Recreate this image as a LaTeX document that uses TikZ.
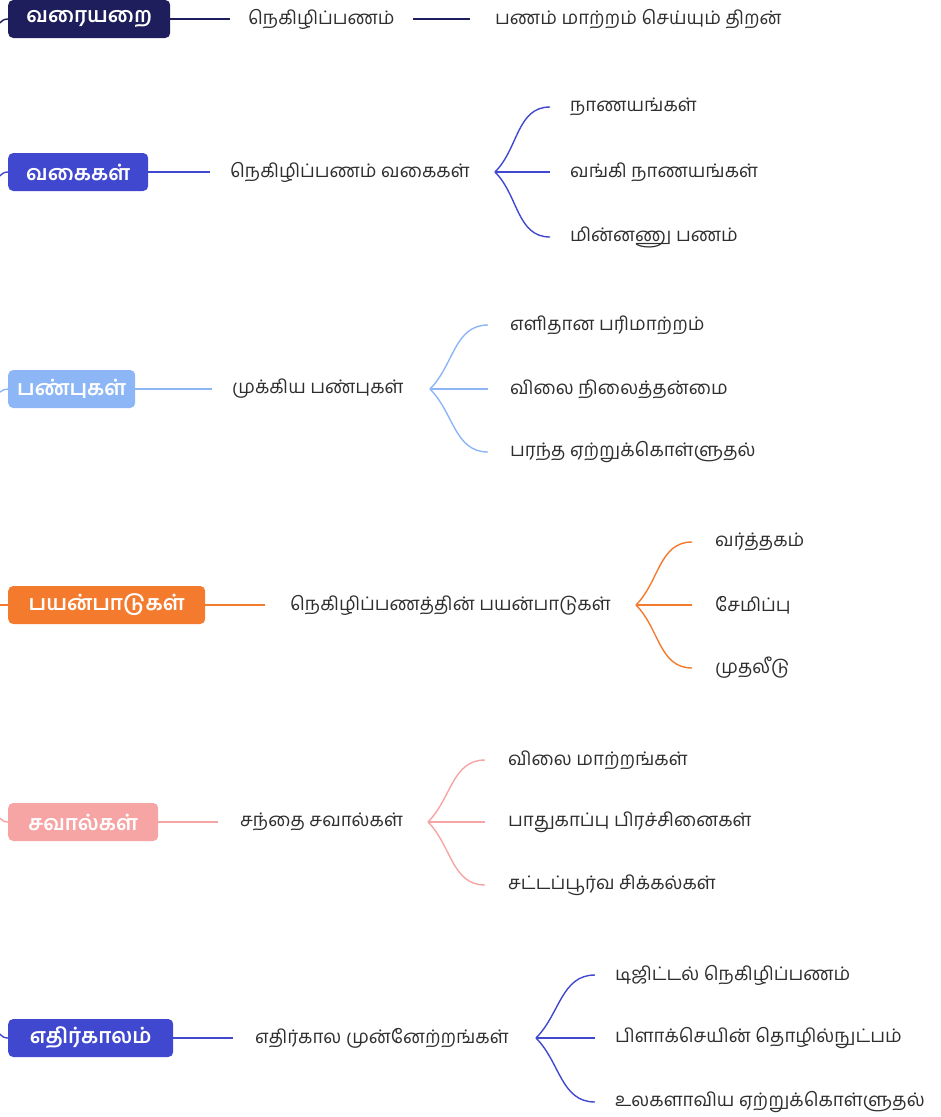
\documentclass[tikz,border=0pt]{standalone}
\usepackage{fontspec}
\newfontfamily\tamilfont[Script=Tamil]{Hind Madurai}
\usetikzlibrary{positioning}
\definecolor{navy}{HTML}{1E1E5C}
\definecolor{indigo}{HTML}{4048CF}
\definecolor{skyblue}{HTML}{8DB6F7}
\definecolor{tangerine}{HTML}{F47B2E}
\definecolor{salmonpink}{HTML}{F6A4A4}
\definecolor{inkgray}{HTML}{2E2E2E}

\begin{document}
\begin{tikzpicture}[x=1pt, y=1pt,
    topic/.style={rectangle, rounded corners=5pt, fill=#1, text=white, anchor=west,
      minimum height=38pt, inner xsep=0pt, font=\tamilfont\bfseries\fontsize{21}{24}\selectfont},
    idea/.style={anchor=west, inner xsep=0pt, text=inkgray, font=\tamilfont\fontsize{18.7}{22}\selectfont},
    link/.style={draw=#1, line width=1.4pt}]
  \useasboundingbox (0,0) rectangle (941,-1117);

  % definition
  \node[topic=navy, minimum width=162pt] (defn) at (8,-19) {வரையறை};
  \node[idea] (defnmain) at (248,-19) {நெகிழிப்பணம்};
  \node[idea] (defnnote) at (495,-19) {பணம் மாற்றம் செய்யும் திறன்};
  \coordinate (defnroot) at (-6,-32);
  \draw[link=navy] (defnroot) to[out=60,in=180] (defn.west);
  \draw[link=navy] (defn.east) -- ([xshift=-18pt]defnmain.west);
  \draw[link=navy] ([xshift=18pt]defnmain.east) -- ([xshift=-25pt]defnnote.west);

  % types
  \node[topic=indigo, minimum width=140pt] (types) at (8,-172) {வகைகள்};
  \node[idea] (typesmain) at (230,-172) {நெகிழிப்பணம் வகைகள்};
  \node[idea] (coins) at (570,-107) {நாணயங்கள்};
  \node[idea] (banknotes) at (570,-172) {வங்கி நாணயங்கள்};
  \node[idea] (emoney) at (570,-237) {மின்னணு பணம்};
  \coordinate (typesroot) at (-6,-185);
  \coordinate (typesfork) at (495,-172);
  \draw[link=indigo] (typesroot) to[out=60,in=180] (types.west);
  \draw[link=indigo] (types.east) -- ([xshift=-20pt]typesmain.west);
  \foreach \c/\a in {coins/45, banknotes/0, emoney/-45}
    \draw[link=indigo] (typesfork) to[out=\a,in=180] ([xshift=-20pt]\c.west);

  % properties
  \node[topic=skyblue, minimum width=127pt] (props) at (8,-389) {பண்புகள்};
  \node[idea] (propsmain) at (232,-389) {முக்கிய பண்புகள்};
  \node[idea] (easy) at (510,-325) {எளிதான பரிமாற்றம்};
  \node[idea] (stable) at (510,-389) {விலை நிலைத்தன்மை};
  \node[idea] (wide) at (510,-452) {பரந்த ஏற்றுக்கொள்ளுதல்};
  \coordinate (propsroot) at (-6,-400);
  \coordinate (propsfork) at (430,-389);
  \draw[link=skyblue] (propsroot) to[out=60,in=180] (props.west);
  \draw[link=skyblue] (props.east) -- ([xshift=-20pt]propsmain.west);
  \foreach \c/\a in {easy/45, stable/0, wide/-45}
    \draw[link=skyblue] (propsfork) to[out=\a,in=180] ([xshift=-22pt]\c.west);

  % uses
  \node[topic=tangerine, minimum width=197pt] (uses) at (8,-605) {பயன்பாடுகள்};
  \node[idea] (usesmain) at (290,-605) {நெகிழிப்பணத்தின் பயன்பாடுகள்};
  \node[idea] (trade) at (715,-542) {வர்த்தகம்};
  \node[idea] (saving) at (715,-605) {சேமிப்பு};
  \node[idea] (invest) at (715,-668) {முதலீடு};
  \coordinate (usesroot) at (-6,-605);
  \coordinate (usesfork) at (636,-605);
  \draw[link=tangerine] (usesroot) -- (uses.west);
  \draw[link=tangerine] (uses.east) -- ([xshift=-25pt]usesmain.west);
  \foreach \c/\a in {trade/45, saving/0, invest/-45}
    \draw[link=tangerine] (usesfork) to[out=\a,in=180] ([xshift=-23pt]\c.west);

  % challenges
  \node[topic=salmonpink, minimum width=150pt] (chall) at (8,-822) {சவால்கள்};
  \node[idea] (challmain) at (240,-822) {சந்தை சவால்கள்};
  \node[idea] (pricechg) at (508,-760) {விலை மாற்றங்கள்};
  \node[idea] (security) at (508,-822) {பாதுகாப்பு பிரச்சினைகள்};
  \node[idea] (legal) at (508,-885) {சட்டப்பூர்வ சிக்கல்கள்};
  \coordinate (challroot) at (-6,-809);
  \coordinate (challfork) at (428,-822);
  \draw[link=salmonpink] (challroot) to[out=-60,in=180] (chall.west);
  \draw[link=salmonpink] (chall.east) -- ([xshift=-22pt]challmain.west);
  \foreach \c/\a in {pricechg/45, security/0, legal/-45}
    \draw[link=salmonpink] (challfork) to[out=\a,in=180] ([xshift=-23pt]\c.west);

  % future
  \node[topic=indigo, minimum width=165pt] (future) at (8,-1038) {எதிர்காலம்};
  \node[idea] (futuremain) at (255,-1038) {எதிர்கால முன்னேற்றங்கள்};
  \node[idea] (digital) at (615,-975) {டிஜிட்டல் நெகிழிப்பணம்};
  \node[idea] (chain) at (615,-1038) {பிளாக்செயின் தொழில்நுட்பம்};
  \node[idea] (global) at (615,-1102) {உலகளாவிய ஏற்றுக்கொள்ளுதல்};
  \coordinate (futureroot) at (-6,-1025);
  \coordinate (futurefork) at (536,-1038);
  \draw[link=indigo] (futureroot) to[out=-60,in=180] (future.west);
  \draw[link=indigo] (future.east) -- ([xshift=-22pt]futuremain.west);
  \foreach \c/\a in {digital/45, chain/0, global/-45}
    \draw[link=indigo] (futurefork) to[out=\a,in=180] ([xshift=-20pt]\c.west);
\end{tikzpicture}
\end{document}
